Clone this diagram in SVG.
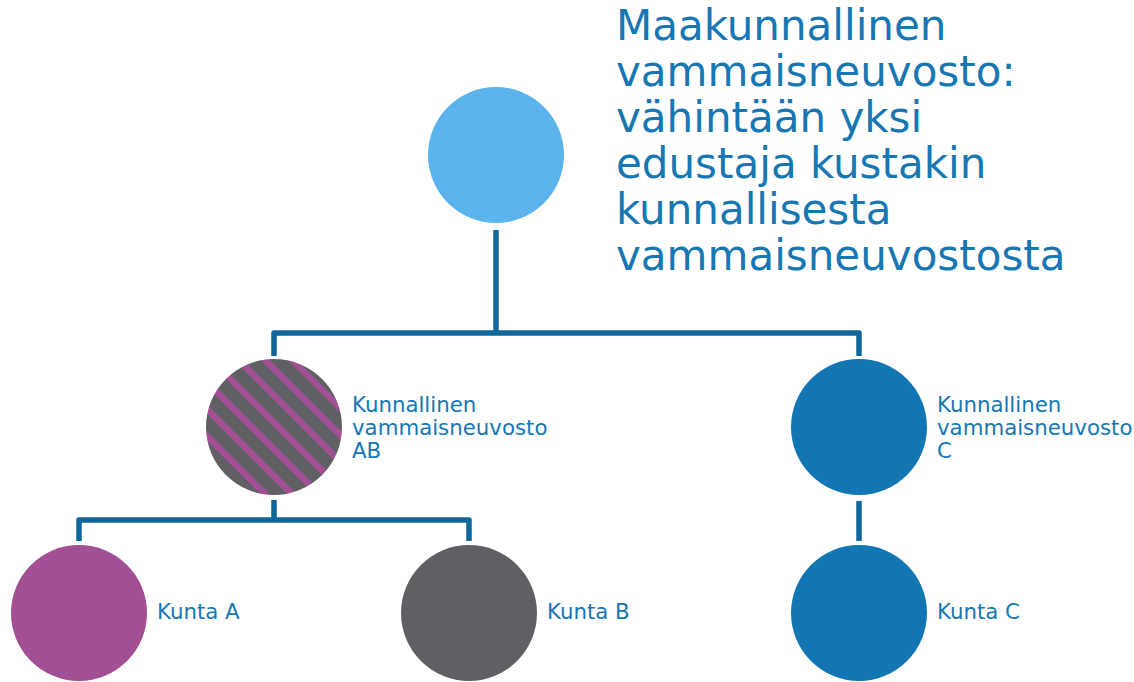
<svg xmlns="http://www.w3.org/2000/svg" width="1134" height="682" viewBox="0 0 1134 682">
<style>
.conn{fill:none;stroke:#0f669b;stroke-width:5.5;stroke-linejoin:round}
.lbl{font-family:"DejaVu Sans",Verdana,sans-serif;fill:#1677b3;font-size:21.3px}
.title{font-family:"DejaVu Sans",Verdana,sans-serif;fill:#1677b3;font-size:42px}
</style>
<defs>
<pattern id="stripes" patternUnits="userSpaceOnUse" width="19" height="19" patternTransform="translate(274 427) rotate(-45)">
<rect width="19" height="19" fill="#5f6063"/>
<rect width="6.5" height="19" fill="#a24f96"/>
</pattern>
</defs>
<rect width="1134" height="682" fill="#ffffff"/>
<g id="connectors">
<path class="conn" d="M496 230 V333 M274 356 V333 H859 V356"/>
<path class="conn" d="M274 500 V520 M79 541 V520 H469 V541"/>
<path class="conn" d="M859 501 V541"/>
</g>
<g id="regional">
<circle cx="496" cy="155" r="68" fill="#5bb4ec"/>
<text class="title" x="616"><tspan x="616" y="40">Maakunnallinen</tspan><tspan x="616" y="86">vammaisneuvosto:</tspan><tspan x="616" y="132">vähintään yksi</tspan><tspan x="616" y="178">edustaja kustakin</tspan><tspan x="616" y="224">kunnallisesta</tspan><tspan x="616" y="270">vammaisneuvostosta</tspan></text>
</g>
<g id="council-ab">
<circle cx="274" cy="427" r="68" fill="url(#stripes)"/>
<text class="lbl"><tspan x="352" y="412">Kunnallinen</tspan><tspan x="352" y="435">vammaisneuvosto</tspan><tspan x="352" y="458">AB</tspan></text>
</g>
<g id="council-c">
<circle cx="859" cy="427" r="68" fill="#1176b1"/>
<text class="lbl"><tspan x="937" y="412">Kunnallinen</tspan><tspan x="937" y="435">vammaisneuvosto</tspan><tspan x="937" y="458">C</tspan></text>
</g>
<g id="kunta-a">
<circle cx="79" cy="613" r="68" fill="#a24f96"/>
<text class="lbl" x="157" y="619">Kunta A</text>
</g>
<g id="kunta-b">
<circle cx="469" cy="613" r="68" fill="#5f6063"/>
<text class="lbl" x="547" y="619">Kunta B</text>
</g>
<g id="kunta-c">
<circle cx="859" cy="613" r="68" fill="#1176b1"/>
<text class="lbl" x="937" y="619">Kunta C</text>
</g>
</svg>
